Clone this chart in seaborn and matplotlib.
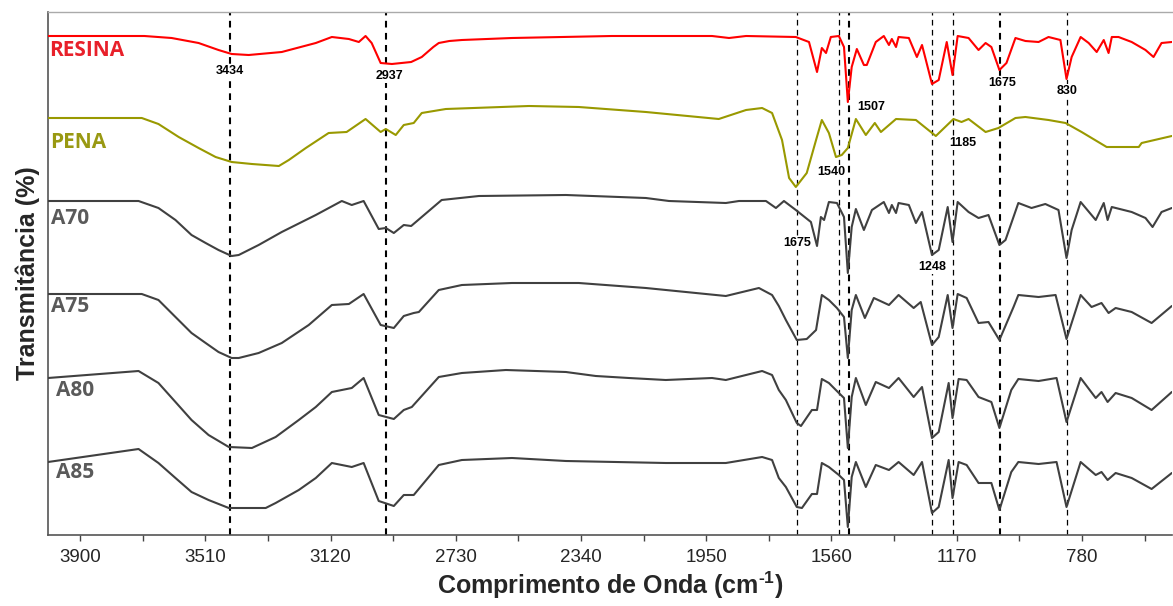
import numpy as np
import pandas as pd
import matplotlib
matplotlib.use("Agg")
import matplotlib.pyplot as plt
import seaborn as sns
from matplotlib.ticker import FixedLocator

# ---------------- data (wavenumber cm-1, relative transmittance, stacked) ----------------
resina_wn = [4000, 3700, 3615, 3531, 3469, 3428, 3375, 3272, 3166, 3116, 3063, 3032, 3011, 2992,
             2964, 2929, 2869, 2836, 2800, 2783, 2750, 2711, 2555, 2244, 1932, 1879, 1826, 1671,
             1630, 1605, 1590, 1577, 1562, 1537, 1521, 1509, 1497, 1481, 1459, 1450, 1422, 1397,
             1381, 1372, 1359, 1351, 1319, 1294, 1278, 1266, 1247, 1226, 1201, 1183, 1167, 1133,
             1102, 1080, 1062, 1037, 1015, 987, 956, 915, 884, 847, 828, 812, 784, 759, 734, 712,
             697, 687, 666, 625, 582, 557, 532, 500]
resina_t = [504, 504, 502, 497, 490, 486, 485, 488, 497, 503, 501, 498, 504, 497,
            477, 476, 478, 483, 493, 497, 499, 500, 502, 504, 504, 502, 504, 503,
            498, 468, 492, 487, 503, 504, 493, 438, 473, 491, 475, 475, 498, 504,
            495, 501, 493, 503, 502, 483, 495, 480, 456, 460, 498, 465, 504, 502,
            490, 497, 493, 470, 477, 502, 499, 498, 503, 500, 461, 483, 503, 497, 488, 500,
            487, 503, 503, 498, 490, 483, 497, 498]

pena_wn = [4000, 3708, 3656, 3593, 3531, 3478, 3428, 3365, 3281, 3250, 3197, 3126, 3070, 3011,
           2964, 2948, 2917, 2892, 2861, 2836, 2761, 2502, 2347, 2138, 1911, 1826, 1776, 1745,
           1714, 1692, 1671, 1637, 1608, 1590, 1568, 1546, 1528, 1509, 1484, 1453, 1425, 1406,
           1359, 1297, 1266, 1235, 1180, 1155, 1133, 1080, 1040, 987, 956, 884, 831, 781, 703,
           603, 594, 500]
pena_t = [422, 422, 416, 403, 392, 383, 378, 376, 374, 380, 392, 407, 408, 421,
          408, 411, 405, 415, 417, 427, 431, 434, 433, 428, 421, 430, 432, 427,
          400, 362, 353, 367, 400, 420, 407, 383, 385, 392, 421, 405, 417, 408,
          421, 420, 412, 404, 421, 418, 421, 408, 412, 422, 423, 420, 417, 408, 393,
          393, 397, 404]

a70_wn = [4000, 3718, 3656, 3603, 3553, 3509, 3469, 3428, 3406, 3344, 3272, 3166, 3085, 3054,
          3017, 2970, 2948, 2923, 2892, 2869, 2774, 2658, 2387, 2138, 2066, 1889, 1848, 1764,
          1733, 1708, 1671, 1624, 1605, 1593, 1583, 1568, 1543, 1521, 1509, 1497, 1484, 1459,
          1434, 1397, 1381, 1372, 1359, 1351, 1319, 1297, 1278, 1247, 1226, 1198, 1183, 1167,
          1133, 1102, 1071, 1037, 1018, 978, 937, 894, 853, 828, 812, 784, 737, 712, 700, 687,
          625, 582, 560, 532, 500]
a70_t = [339, 339, 332, 320, 305, 297, 290, 284, 285, 295, 308, 325, 339, 335,
         339, 311, 312, 307, 315, 314, 340, 344, 345, 342, 339, 337, 339, 339,
         332, 339, 330, 318, 294, 323, 320, 338, 337, 323, 267, 313, 331, 310,
         330, 338, 327, 335, 327, 337, 335, 317, 328, 285, 290, 333, 298, 338,
         328, 322, 325, 295, 300, 337, 332, 336, 330, 282, 310, 338, 320, 337, 320, 333,
         328, 322, 313, 328, 332]

a75_wn = [4000, 3708, 3656, 3603, 3553, 3509, 3469, 3428, 3406, 3344, 3272, 3188, 3116, 3063,
          3017, 2964, 2923, 2892, 2861, 2845, 2783, 2711, 2555, 2347, 2138, 1889, 1786, 1745,
          1724, 1702, 1668, 1637, 1608, 1590, 1568, 1543, 1521, 1509, 1497, 1484, 1456, 1428,
          1381, 1351, 1304, 1282, 1247, 1226, 1198, 1183, 1167, 1139, 1102, 1071, 1037, 993,
          978, 915, 862, 828, 784, 750, 719, 697, 675, 625, 563, 500]
a75_t = [246, 246, 240, 223, 207, 197, 188, 182, 182, 187, 197, 215, 235, 236,
         246, 215, 212, 224, 227, 228, 250, 255, 257, 257, 252, 244, 252, 245,
         234, 220, 200, 201, 210, 245, 240, 232, 223, 182, 230, 245, 222, 242,
         235, 245, 232, 238, 195, 203, 245, 212, 246, 242, 217, 218, 200, 233,
         245, 243, 245, 201, 245, 233, 237, 227, 232, 228, 217, 234]

a80_wn = [4000, 3718, 3656, 3603, 3553, 3500, 3437, 3365, 3291, 3219, 3166, 3116, 3054, 3017,
          2970, 2923, 2892, 2867, 2783, 2711, 2574, 2387, 2294, 2191, 2076, 1932, 1889, 1776,
          1745, 1724, 1702, 1668, 1655, 1621, 1605, 1590, 1568, 1537, 1521, 1509, 1497, 1484,
          1453, 1422, 1381, 1351, 1304, 1278, 1247, 1226, 1195, 1183, 1164, 1139, 1102, 1062,
          1037, 1000, 978, 915, 859, 828, 784, 737, 719, 700, 675, 625, 563, 500]
a80_t = [162, 169, 157, 138, 120, 105, 93, 92, 103, 120, 133, 148, 152, 162,
         125, 121, 130, 133, 163, 167, 170, 168, 164, 162, 160, 162, 160, 169,
         165, 150, 140, 117, 114, 130, 130, 161, 157, 147, 142, 92, 143, 162,
         135, 158, 152, 162, 143, 153, 102, 108, 157, 122, 161, 160, 143, 138,
         112, 150, 161, 159, 162, 118, 162, 142, 148, 138, 147, 142, 130, 148]

a85_wn = [4000, 3718, 3656, 3603, 3553, 3500, 3437, 3322, 3291, 3219, 3166, 3116, 3054, 3017,
          2970, 2923, 2892, 2861, 2783, 2711, 2555, 2387, 2076, 1889, 1776, 1745, 1724, 1702,
          1668, 1652, 1621, 1605, 1590, 1568, 1537, 1521, 1509, 1497, 1484, 1453, 1422, 1381,
          1351, 1304, 1278, 1247, 1226, 1195, 1183, 1164, 1139, 1102, 1062, 1037, 1000, 978,
          915, 859, 828, 784, 737, 719, 700, 675, 625, 563, 500]
a85_t = [78, 91, 77, 62, 48, 40, 32, 32, 37, 50, 62, 77, 73, 77,
         39, 34, 45, 45, 75, 80, 82, 79, 77, 77, 83, 80, 62, 53,
         33, 32, 46, 46, 77, 73, 65, 60, 13, 63, 78, 53, 75, 70,
         78, 65, 78, 27, 33, 80, 42, 78, 75, 57, 57, 30, 68, 78,
         76, 78, 33, 78, 65, 68, 60, 67, 62, 51, 67]

sample_names = ["RESINA", "PENA", "A70", "A75", "A80", "A85"]
sample_colors = ["#ff0000", "#999900", "#404040", "#404040", "#404040", "#404040"]
label_colors = ["#e8202a", "#999912", "#5a5a5a", "#5a5a5a", "#5a5a5a", "#5a5a5a"]
label_wn = [3995, 3992, 3990, 3990, 3976, 3976]
label_t = [490, 397, 322, 234, 149, 67]

peak_lines = [3432, 2946, 1668, 1538, 1504, 1246, 1181, 1035, 828]
peak_line_bold = [True, True, False, False, True, False, False, True, False]
peak_texts = ["3434", "2937", "1507", "1675", "830", "1540", "1185", "1675", "1248"]
peak_text_wn = [3432, 2938, 1437, 1029, 826, 1562, 1150, 1668, 1247]
peak_text_t = [469, 464, 433, 457, 449, 368, 397, 297, 273]

xticks_major = [3900, 3510, 3120, 2730, 2340, 1950, 1560, 1170, 780]
xticks_minor = [3705, 3315, 2925, 2535, 2145, 1755, 1365, 975, 585]

# ---------------- build dataframe ----------------
series = [(resina_wn, resina_t), (pena_wn, pena_t), (a70_wn, a70_t),
          (a75_wn, a75_t), (a80_wn, a80_t), (a85_wn, a85_t)]
frames = []
for name, (wn, t) in zip(sample_names, series):
    frames.append(pd.DataFrame({"wn": wn, "T": t, "sample": name}))
df = pd.concat(frames, ignore_index=True)

# ---------------- plot ----------------
sns.set_style("white")
plt.rcParams["font.family"] = ["Liberation Sans", "DejaVu Sans"]
plt.rcParams["mathtext.fontset"] = "custom"
plt.rcParams["mathtext.rm"] = "Liberation Sans"
plt.rcParams["mathtext.bf"] = "Liberation Sans:bold"

fig = plt.figure(figsize=(11.73, 6.06), dpi=100)
ax = fig.add_axes([48 / 1173, 71 / 606, 1 - 48 / 1173 - 0.001, (535 - 12) / 606])

for x, bold in zip(peak_lines, peak_line_bold):
    if bold:
        ax.axvline(x, color="black", lw=1.5, ls=(0, (3.2, 2.6)), zorder=1)
    else:
        ax.axvline(x, color="black", lw=0.9, ls=(0, (4.5, 3.5)), zorder=1)

sns.lineplot(data=df, x="wn", y="T", hue="sample", palette=dict(zip(sample_names, sample_colors)),
             estimator=None, legend=False, lw=1.5, ax=ax, zorder=3)

for name, c, xw, yt in zip(sample_names, label_colors, label_wn, label_t):
    ax.text(xw, yt, name, color=c, fontsize=15, fontweight="bold", family="Open Sans",
            ha="left", va="center", zorder=4)

for txt, xw, yt in zip(peak_texts, peak_text_wn, peak_text_t):
    ax.text(xw, yt, txt, color="black", fontsize=9, fontweight="bold", ha="center", va="center",
            zorder=4, bbox=dict(facecolor="white", edgecolor="none", pad=0.6))

ax.set_xlim(4000, 500)
ax.set_ylim(5, 528)
ax.xaxis.set_major_locator(FixedLocator(xticks_major))
ax.xaxis.set_minor_locator(FixedLocator(xticks_minor))
ax.set_xticklabels([str(v) for v in xticks_major])
ax.set_yticks([])
ax.tick_params(axis="x", which="both", direction="out", length=4, width=1, color="#444444",
               labelsize=13.5, pad=6, bottom=True)
ax.set_xlabel("Comprimento de Onda (cm$^{\\mathbf{\u2010}\\mathbf{1}}$)", fontsize=18,
              fontweight="bold", labelpad=3)
ax.set_ylabel("Transmitância (%)", fontsize=18, fontweight="bold", labelpad=6)

for side in ["left", "bottom"]:
    ax.spines[side].set_color("#555555")
    ax.spines[side].set_linewidth(1.2)
ax.spines["top"].set_color("#aaaaaa")
ax.spines["top"].set_linewidth(1.0)
ax.spines["right"].set_visible(False)

fig.savefig("out.png", dpi=100)
